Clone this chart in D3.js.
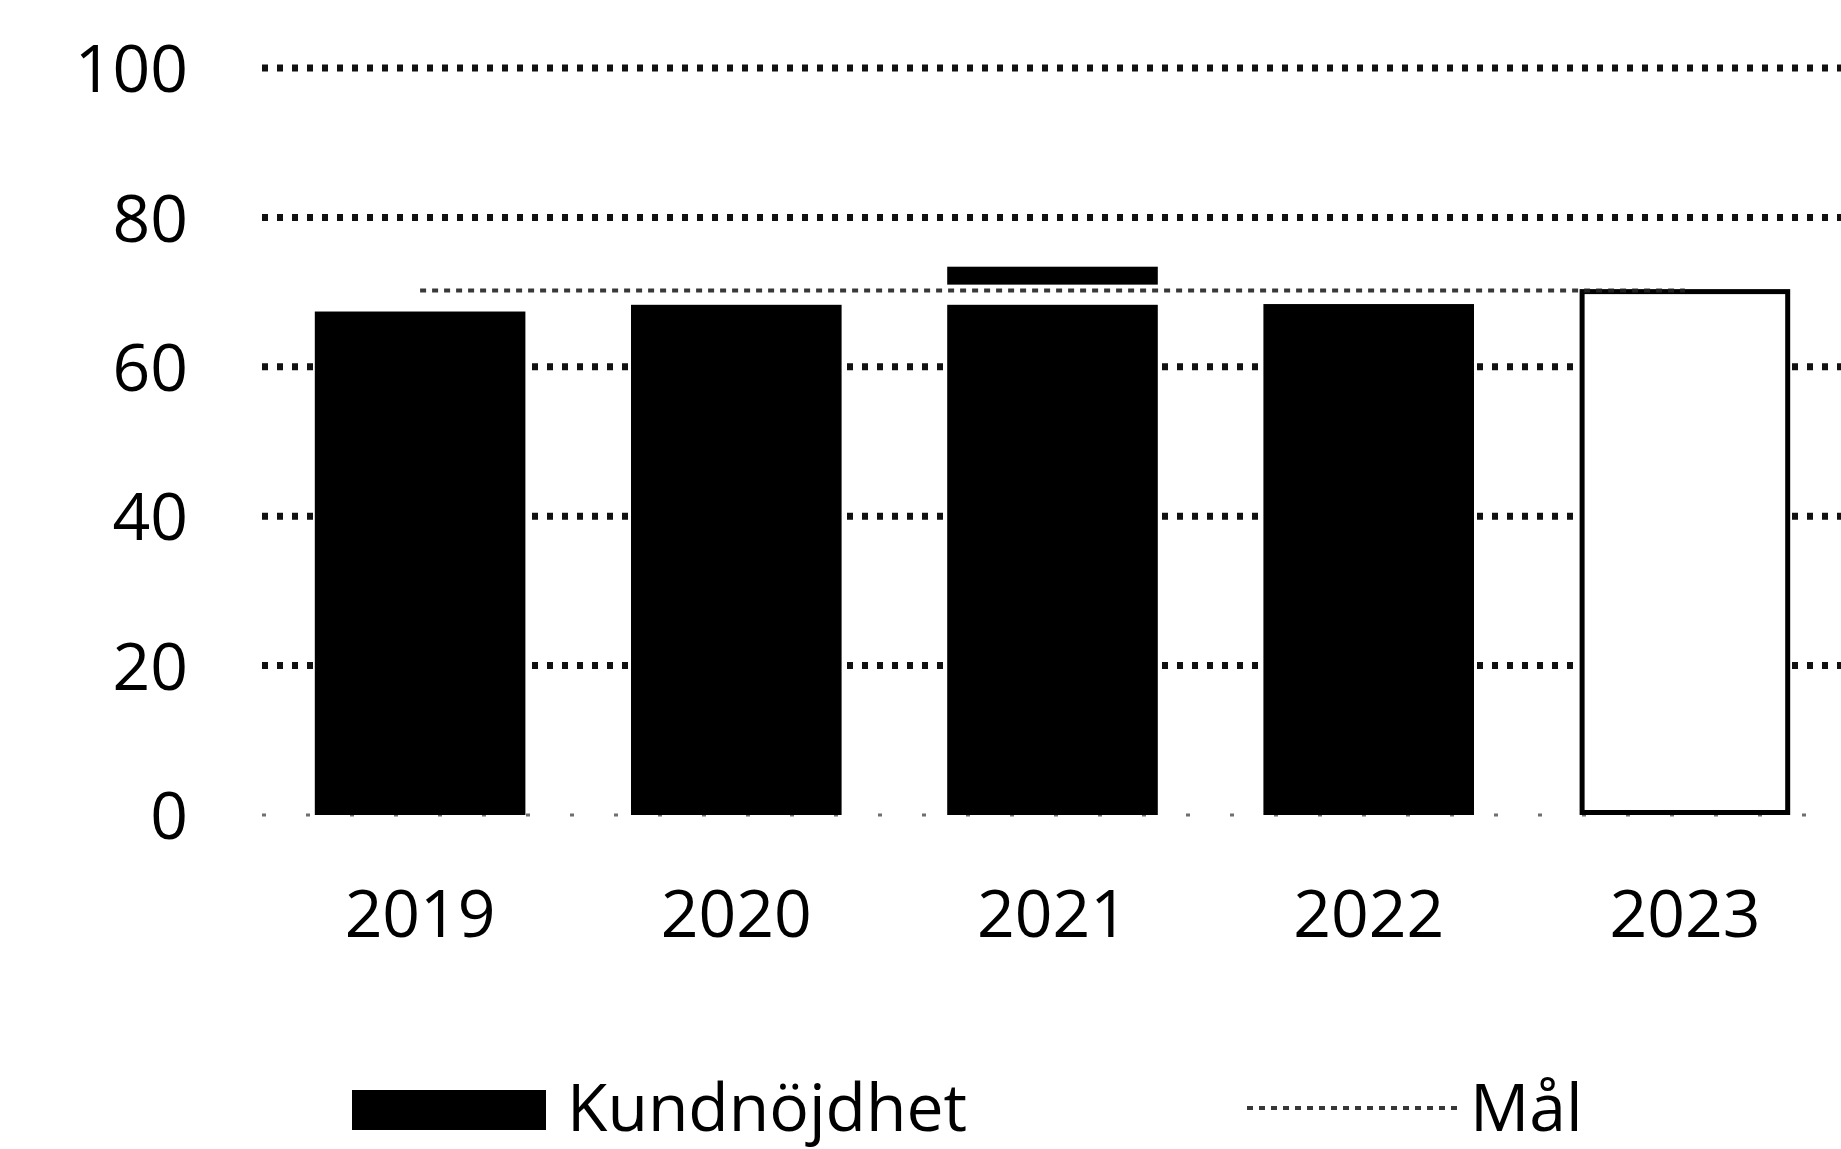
<!DOCTYPE html>
<html><head><meta charset="utf-8">
<script src="https://cdn.jsdelivr.net/npm/d3@7"></script>
<style>html,body{margin:0;padding:0;background:#fff;}svg{display:block;}</style>
</head><body>
<script>
const years = ["2019","2020","2021","2022","2023"];
const satisfaction = [67.4, 68.3, 68.3, 68.4, 70.4];
const hollow = ["2023"];
const target = [70.2, 70.2, 70.2, 70.2, 70.2];
const extraMarks = [{year:"2021", low:71.0, high:73.4}];
const yTicks = [0, 20, 40, 60, 80, 100];
const legendLabels = ["Kundnöjdhet", "Mål"];

const W = 1841, H = 1149;
const svg = d3.select("body").append("svg").attr("width", W).attr("height", H);
const font = "'Open Sans', 'Noto Sans', sans-serif";
const fs = 66;

const x = d3.scaleBand().domain(years).range([262, 1843]).paddingInner(0.334).paddingOuter(0.167);
const y = d3.scaleLinear().domain([0, 100]).range([815, 68]);

// grid
const grid = svg.append("g");
grid.selectAll("line").data(yTicks.filter(d => d > 0)).join("line")
  .attr("x1", 262).attr("x2", W)
  .attr("y1", d => y(d)).attr("y2", d => y(d))
  .attr("stroke", "#111").attr("stroke-width", 7)
  .attr("stroke-dasharray", "6,9");
grid.append("line").attr("x1", 262).attr("x2", W).attr("y1", y(0)).attr("y2", y(0))
  .attr("stroke", "#333").attr("stroke-width", 3).attr("stroke-dasharray", "4,40").attr("opacity", 0.7);

// y axis labels
const yAxis = d3.axisLeft(y).tickValues(yTicks).tickSize(0).tickPadding(0);
const ya = svg.append("g").attr("transform", "translate(188,0)").call(yAxis);
ya.select(".domain").remove();
ya.selectAll("text").attr("font-family", font).attr("font-size", fs).attr("fill", "#000").attr("dy", "0.36em");

// x axis labels
const xAxis = d3.axisBottom(x).tickSize(0).tickPadding(0);
const xa = svg.append("g").attr("transform", "translate(0,890)").call(xAxis);
xa.select(".domain").remove();
xa.selectAll("text").attr("font-family", font).attr("font-size", fs).attr("fill", "#000").attr("dy", "0.71em");

// bars
const data = years.map((yr, i) => ({year: yr, v: satisfaction[i]}));
svg.append("g").selectAll("rect").data(data).join("rect")
  .attr("x", d => hollow.includes(d.year) ? x(d.year) + 2.5 : x(d.year))
  .attr("width", d => hollow.includes(d.year) ? x.bandwidth() - 5 : x.bandwidth())
  .attr("y", d => hollow.includes(d.year) ? y(d.v) + 2.5 : y(d.v))
  .attr("height", d => hollow.includes(d.year) ? y(0) - y(d.v) - 5 : y(0) - y(d.v))
  .attr("fill", d => hollow.includes(d.year) ? "#fff" : "#000")
  .attr("stroke", d => hollow.includes(d.year) ? "#000" : "none")
  .attr("stroke-width", 5);

// extra marks
svg.append("g").selectAll("rect").data(extraMarks).join("rect")
  .attr("x", d => x(d.year)).attr("width", x.bandwidth())
  .attr("y", d => y(d.high)).attr("height", d => y(d.low) - y(d.high))
  .attr("fill", "#000");

// target line
const tdata = years.map((yr, i) => ({year: yr, v: target[i]}));
const line = d3.line().x(d => x(d.year) + x.bandwidth() / 2).y(d => y(d.v));
svg.append("path").datum(tdata).attr("d", line)
  .attr("fill", "none").attr("stroke", "#222").attr("stroke-width", 4)
  .attr("stroke-dasharray", "6,6").attr("opacity", 0.9);

// legend
const lg = svg.append("g");
lg.append("rect").attr("x", 352).attr("y", 1090).attr("width", 194).attr("height", 40).attr("fill", "#000");
lg.append("text").attr("x", 567).attr("y", 1131).attr("font-family", font).attr("font-size", fs).attr("fill", "#000").text(legendLabels[0]);
lg.append("line").attr("x1", 1247).attr("x2", 1460).attr("y1", 1108).attr("y2", 1108)
  .attr("stroke", "#222").attr("stroke-width", 4).attr("stroke-dasharray", "6,6").attr("opacity", 0.9);
lg.append("text").attr("x", 1470).attr("y", 1131).attr("font-family", font).attr("font-size", fs).attr("fill", "#000").text(legendLabels[1]);
</script>
</body></html>
